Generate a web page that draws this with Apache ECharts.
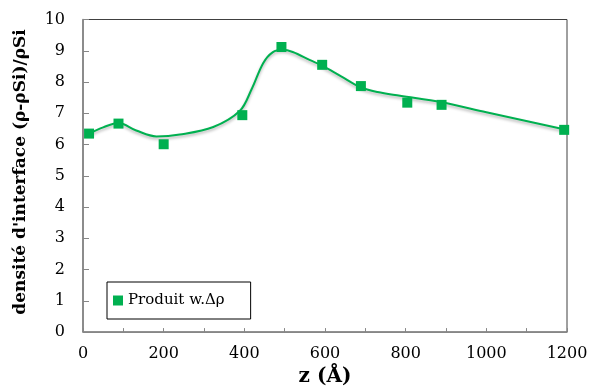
<!DOCTYPE html>
<html>
<head>
<meta charset="utf-8">
<script src="https://cdn.jsdelivr.net/npm/echarts@6/dist/echarts.min.js"></script>
<style>html,body{margin:0;padding:0;background:#fff}#c{width:591px;height:392px}</style>
</head>
<body>
<div id="c"></div>
<script>
// Measured points (z in Å, value)
const pointZ = [15, 88, 200, 395, 492, 593, 689, 804, 889, 1193];
const pointV = [6.35, 6.67, 6.01, 6.94, 9.12, 8.55, 7.87, 7.34, 7.27, 6.47];
// Smoothed curve
const curveZ = [15, 50, 88, 132, 182, 240, 323, 389, 418, 447, 470, 495, 520, 563, 592, 640, 687, 730, 786, 889, 1000, 1195];
const curveV = [6.35, 6.55, 6.69, 6.45, 6.26, 6.32, 6.56, 7.08, 7.77, 8.61, 8.95, 9.03, 8.96, 8.70, 8.53, 8.18, 7.84, 7.68, 7.56, 7.35, 7.03, 6.48];
const seriesName = 'Produit w.\u0394\u03c1';
const xTitle = 'z (\u00c5)';
const yTitle = "densit\u00e9 d'interface (\u03c1-\u03c1Si)/\u03c1Si";

const green = '#00b050';
const chart = echarts.init(document.getElementById('c'));
chart.setOption({
  animation: false,
  textStyle: {fontFamily: 'DejaVu Serif'},
  grid: {left: 83, right: 24, top: 19.5, bottom: 56, show: true, borderColor: '#404040', borderWidth: 1, backgroundColor: 'transparent'},
  graphic: [{
    type: 'text', x: 21, y: 172, rotation: Math.PI / 2,
    style: {text: yTitle, fontFamily: 'DejaVu Serif', fontWeight: 'bold', fontSize: 17, fill: '#000', align: 'center', verticalAlign: 'middle'}
  }],
  legend: {
    data: [{name: seriesName, icon: 'rect'}],
    left: 107, top: 282,
    padding: [11, 26, 11, 6],
    itemWidth: 10, itemHeight: 10, itemGap: 8,
    borderColor: '#000', borderWidth: 1, backgroundColor: '#fff',
    textStyle: {fontFamily: 'DejaVu Serif', fontSize: 15, color: '#000'}
  },
  xAxis: {
    type: 'value', min: 0, max: 1200, interval: 200,
    name: xTitle, nameLocation: 'middle', nameGap: 34,
    nameTextStyle: {fontFamily: 'DejaVu Serif', fontWeight: 'bold', fontSize: 20, color: '#000'},
    axisLine: {lineStyle: {color: '#868686', width: 1.5}},
    axisTick: {inside: true, length: 4, lineStyle: {color: '#868686'}},
    minorTick: {show: true, splitNumber: 2, length: 4, lineStyle: {color: '#868686'}},
    axisLabel: {fontSize: 16, color: '#000', margin: 14, formatter: v => String(v)},
    splitLine: {show: false}
  },
  yAxis: {
    type: 'value', min: 0, max: 10, interval: 1,
    axisLine: {show: true, lineStyle: {color: '#868686', width: 1.5}},
    axisTick: {show: true, inside: true, length: 6, lineStyle: {color: '#868686'}},
    axisLabel: {fontSize: 16, color: '#000', margin: 18},
    splitLine: {show: false}
  },
  series: [
    {
      name: 'curve', type: 'line', smooth: 0.35, showSymbol: false, silent: true,
      data: curveZ.map((z, i) => [z, curveV[i]]),
      lineStyle: {color: green, width: 2, shadowColor: 'rgba(0,0,0,0.3)', shadowBlur: 3, shadowOffsetY: 2},
      z: 2
    },
    {
      name: seriesName, type: 'scatter', symbol: 'rect', symbolSize: 10,
      data: pointZ.map((z, i) => [z, pointV[i]]),
      itemStyle: {color: green, opacity: 1},
      z: 3
    }
  ]
});
</script>
</body>
</html>
